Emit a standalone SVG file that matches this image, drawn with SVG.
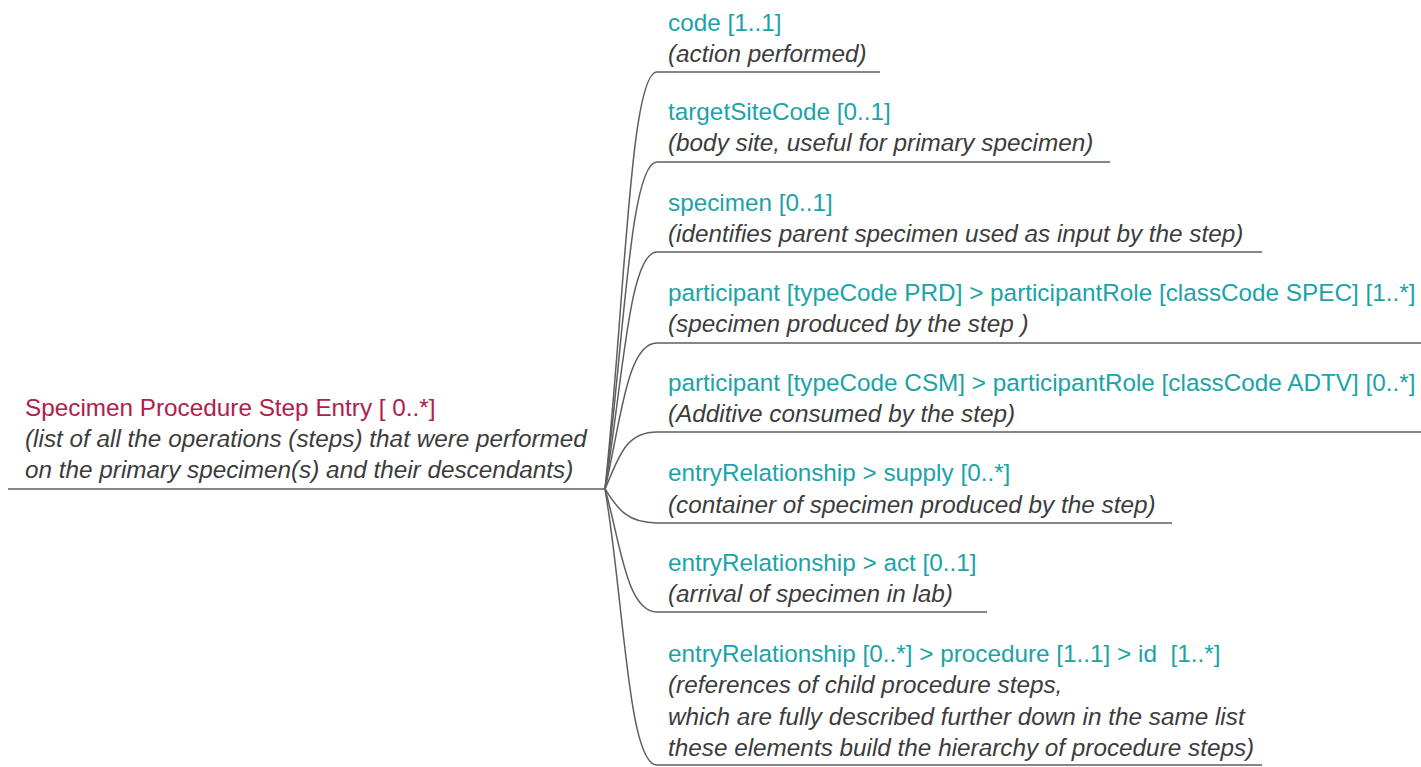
<svg xmlns="http://www.w3.org/2000/svg" width="1421" height="767" viewBox="0 0 1421 767">
<style>
text{font-family:"Liberation Sans",Arial,sans-serif;font-size:24.3px}
.root{fill:#B0204A}
.lbl{fill:#1BA3A8}
.note{fill:#3C3C3C;font-style:italic}
.ln{fill:none;stroke:#5E5E5E;stroke-width:1.5}
</style>
<rect width="1421" height="767" fill="#ffffff"/>
<g id="connectors">
<path class="ln" d="M605,489 C625,300 630,72 657,72"/>
<path class="ln" d="M605,489 C624,340 630,162 657,162"/>
<path class="ln" d="M605,489 C623,380 629,252 657,252"/>
<path class="ln" d="M605,489 C621,420 627,343 657,343"/>
<path class="ln" d="M605,489 C618,460 624,432 657,432"/>
<path class="ln" d="M605,489 C616,505 624,523 657,523"/>
<path class="ln" d="M605,489 C620,540 626,612 657,612"/>
<path class="ln" d="M605,489 C624,600 628,765 657,765"/>
</g>
<g id="root">
<text class="root" x="25" y="416">Specimen Procedure Step Entry [ 0..*]</text>
<text class="note" x="25" y="447">(list of all the operations (steps) that were performed</text>
<text class="note" x="25" y="478">on the primary specimen(s) and their descendants)</text>
<line class="ln" x1="8" y1="489" x2="605" y2="489"/>
</g>
<g id="n-code">
<text class="lbl" x="668" y="31">code [1..1]</text>
<text class="note" x="668" y="62">(action performed)</text>
<line class="ln" x1="657" y1="72" x2="880" y2="72"/>
</g>
<g id="n-target">
<text class="lbl" x="668" y="120">targetSiteCode [0..1]</text>
<text class="note" x="668" y="151">(body site, useful for primary specimen)</text>
<line class="ln" x1="657" y1="162" x2="1110" y2="162"/>
</g>
<g id="n-specimen">
<text class="lbl" x="668" y="211">specimen [0..1]</text>
<text class="note" x="668" y="242">(identifies parent specimen used as input by the step)</text>
<line class="ln" x1="657" y1="252" x2="1262" y2="252"/>
</g>
<g id="n-prd">
<text class="lbl" x="668" y="301">participant [typeCode PRD] &gt; participantRole [classCode SPEC] [1..*]</text>
<text class="note" x="668" y="332">(specimen produced by the step )</text>
<line class="ln" x1="657" y1="343" x2="1421" y2="343"/>
</g>
<g id="n-csm">
<text class="lbl" x="668" y="391">participant [typeCode CSM] &gt; participantRole [classCode ADTV] [0..*]</text>
<text class="note" x="668" y="422">(Additive consumed by the step)</text>
<line class="ln" x1="657" y1="432" x2="1421" y2="432"/>
</g>
<g id="n-supply">
<text class="lbl" x="668" y="481">entryRelationship &gt; supply [0..*]</text>
<text class="note" x="668" y="513">(container of specimen produced by the step)</text>
<line class="ln" x1="657" y1="523" x2="1172" y2="523"/>
</g>
<g id="n-act">
<text class="lbl" x="668" y="571">entryRelationship &gt; act [0..1]</text>
<text class="note" x="668" y="602">(arrival of specimen in lab)</text>
<line class="ln" x1="657" y1="612" x2="987" y2="612"/>
</g>
<g id="n-procedure">
<text class="lbl" x="668" y="662" xml:space="preserve">entryRelationship [0..*] &gt; procedure [1..1] &gt; id  [1..*]</text>
<text class="note" x="668" y="693">(references of child procedure steps,</text>
<text class="note" x="668" y="725">which are fully described further down in the same list</text>
<text class="note" x="668" y="756">these elements build the hierarchy of procedure steps)</text>
<line class="ln" x1="657" y1="765" x2="1262" y2="765"/>
</g>
</svg>
